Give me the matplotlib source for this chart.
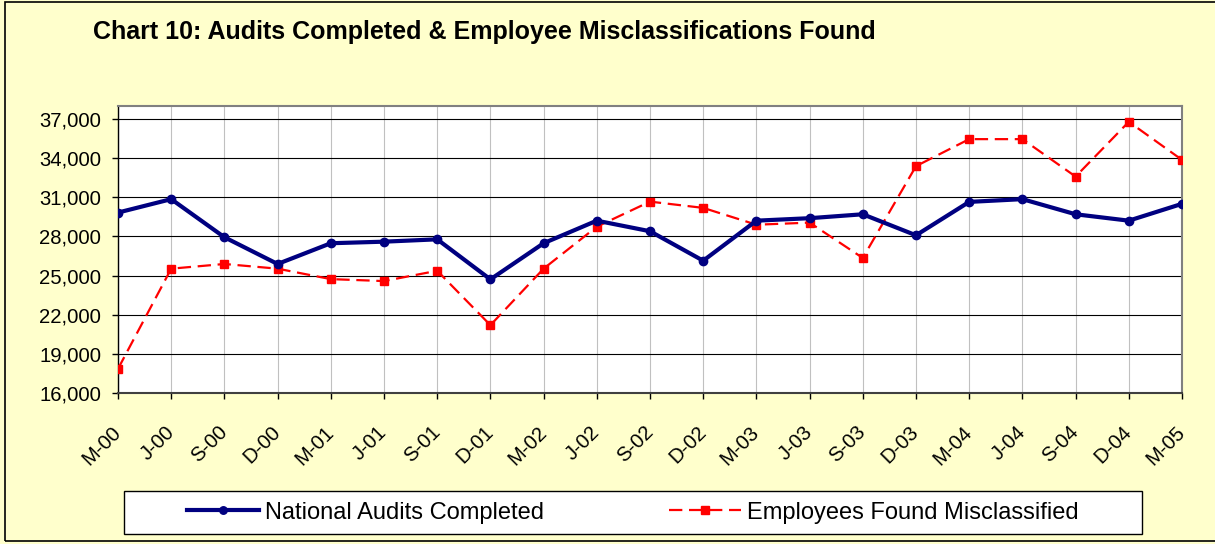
import matplotlib
matplotlib.use("Agg")
import matplotlib.pyplot as plt
from matplotlib.patches import Rectangle
from matplotlib.ticker import FuncFormatter

plt.rcParams['font.family'] = ['Liberation Sans', 'DejaVu Sans']

quarters = ["M-00", "J-00", "S-00", "D-00", "M-01", "J-01", "S-01", "D-01",
            "M-02", "J-02", "S-02", "D-02", "M-03", "J-03", "S-03", "D-03",
            "M-04", "J-04", "S-04", "D-04", "M-05"]
audits_completed = [29830, 30860, 27940, 25890, 27480, 27600, 27780, 24710,
                    27480, 29210, 28400, 26140, 29210, 29400, 29700, 28090,
                    30650, 30860, 29700, 29210, 30500]
employees_misclassified = [17850, 25530, 25890, 25530, 24730, 24580, 25370, 21200,
                           25530, 28750, 30670, 30190, 28900, 29060, 26350, 33390,
                           35460, 35460, 32590, 36790, 33870]
y_ticks = [16000, 19000, 22000, 25000, 28000, 31000, 34000, 37000]

W, H = 1215, 544
fig = plt.figure(figsize=(W / 100, H / 100), dpi=100)
bg = "#FFFFCC"
fig.patch.set_facecolor(bg)

# outer frame
fig.patches.append(Rectangle((5 / W, 1 - 541 / H), 1.2, (541 - 2) / H,
                             transform=fig.transFigure, fill=False,
                             edgecolor="black", linewidth=1.2, zorder=0))

ax = fig.add_axes([118 / W, 1 - 393 / H, (1182 - 118) / W, (393 - 106) / H])
ax.set_facecolor("white")
x = list(range(len(quarters)))

ax.plot(x, audits_completed, color="#000080", linewidth=3.0, marker="o",
        markersize=6, label="National Audits Completed", zorder=4)
ax.plot(x, employees_misclassified, color="#FF0000", linewidth=1.6,
        linestyle=(0, (6, 3)), marker="s", markersize=6,
        label="Employees Found Misclassified", zorder=3)

ax.set_xlim(0, len(quarters) - 1)
ax.set_ylim(16000, 38000)
ax.set_yticks(y_ticks)
ax.yaxis.set_major_formatter(FuncFormatter(lambda v, p: f"{int(v):,}"))
ax.set_xticks(x)
ax.set_xticklabels(quarters)

ax.grid(axis="y", color="black", linewidth=0.8)
ax.grid(axis="x", color="#C0C0C0", linewidth=0.8)
ax.set_axisbelow(True)

for s in ["top", "right"]:
    ax.spines[s].set_color("#808080")
    ax.spines[s].set_linewidth(1.5)
ax.spines["left"].set_color("black")
ax.spines["left"].set_linewidth(1.0)
ax.spines["bottom"].set_color("#404040")
ax.spines["bottom"].set_linewidth(1.5)

ax.tick_params(axis="y", direction="out", length=4, width=1, pad=8,
               labelsize=14.6, colors="black")
ax.tick_params(axis="x", direction="out", length=4, width=1, pad=22,
               labelsize=14.6, colors="black")
for lbl in ax.get_xticklabels():
    lbl.set_rotation(45)
    lbl.set_rotation_mode("anchor")
    lbl.set_ha("right")
    lbl.set_va("center")

fig.text(93 / W, 1 - 32 / H,
         "Chart 10: Audits Completed & Employee Misclassifications Found",
         fontsize=18, fontweight="bold", ha="left", va="center")

# legend box
fig.patches.append(Rectangle((124 / W, 1 - 534 / H), (1142 - 124) / W, 43 / H,
                             transform=fig.transFigure, facecolor="white",
                             edgecolor="black", linewidth=1.0, zorder=1))
handles, labels = ax.get_legend_handles_labels()
leg = fig.legend(handles, labels, loc="center",
                 bbox_to_anchor=((124 + 1142) / 2 / W, 1 - 512.5 / H),
                 ncol=2, frameon=False, fontsize=17, handlelength=3.05,
                 handletextpad=0.25, columnspacing=5.3, markerscale=0.9)
leg.set_zorder(5)

fig.savefig("out.png", dpi=100, facecolor=bg)
